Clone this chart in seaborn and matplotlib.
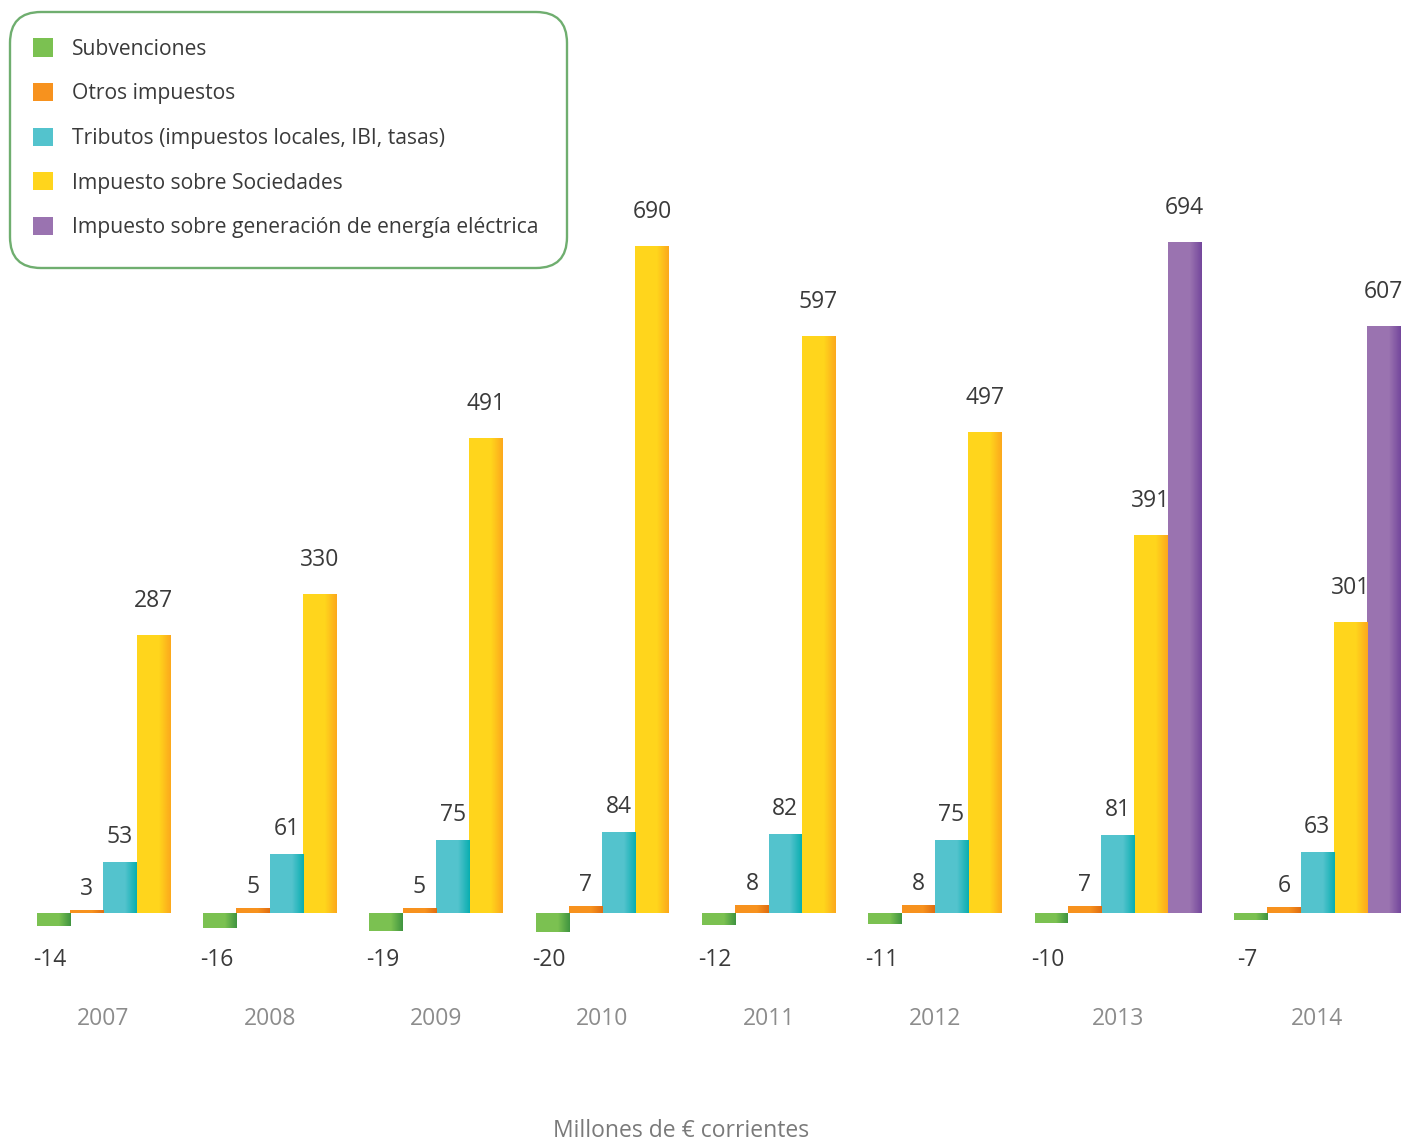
import numpy as np
import pandas as pd
import matplotlib
matplotlib.use("Agg")
import matplotlib.pyplot as plt
import seaborn as sns
from matplotlib.colors import to_rgb
from matplotlib.patches import FancyBboxPatch

# Contribución fiscal por concepto (millones de euros corrientes)
years = ["2007", "2008", "2009", "2010", "2011", "2012", "2013", "2014"]
series = [
    "Subvenciones",
    "Otros impuestos",
    "Tributos (impuestos locales, IBI, tasas)",
    "Impuesto sobre Sociedades",
    "Impuesto sobre generación de energía eléctrica",
]
subvenciones = [-14, -16, -19, -20, -12, -11, -10, -7]
otros_impuestos = [3, 5, 5, 7, 8, 8, 7, 6]
tributos = [53, 61, 75, 84, 82, 75, 81, 63]
sociedades = [287, 330, 491, 690, 597, 497, 391, 301]
energia = [None, None, None, None, None, None, 694, 607]

colors = ["#7bc151", "#f7921e", "#53c3cd", "#ffd51c", "#9a73b0"]
shade_colors = ["#3f9440", "#e06d12", "#09aeb0", "#fca81c", "#74479c"]
label_offset_px = [0, 21, 25, 34, 34]

values_by_series = [subvenciones, otros_impuestos, tributos, sociedades, energia]

# Build long-form table: bars of one year side by side, one empty slot between years
rows = []
group_centers = []
pos = 0
for yi, year in enumerate(years):
    start = pos
    for si, name in enumerate(series):
        v = values_by_series[si][yi]
        if v is None:
            continue
        rows.append({"pos": pos, "value": v, "serie": name, "year": year})
        pos += 1
    group_centers.append((start + pos - 1) / 2)
    pos += 1
df = pd.DataFrame(rows)

sns.set_style("white")
plt.rcParams["font.family"] = ["Open Sans", "DejaVu Sans"]

W, H = 1408, 1141
fig = plt.figure(figsize=(W / 100, H / 100), dpi=100)
ax = fig.add_axes([0, 0, 1, 1])

sns.barplot(
    data=df, x="pos", y="value", hue="serie", hue_order=series,
    palette=colors, native_scale=True, dodge=False, width=1,
    errorbar=None, linewidth=0, saturation=1, ax=ax,
)

# darker shading on the right side of each bar
for si, cont in enumerate(ax.containers):
    c0 = np.array(to_rgb(colors[si]))
    c1 = np.array(to_rgb(shade_colors[si]))
    n = 64
    t = np.linspace(0, 1, n)
    grad = (c0[None, :] * (1 - t[:, None]) + c1[None, :] * t[:, None])[None, :, :]
    for bar in cont:
        x0, w = bar.get_x(), bar.get_width()
        y0, h = bar.get_y(), bar.get_height()
        im = ax.imshow(grad, extent=(x0 + 0.66 * w, x0 + w, y0, y0 + h),
                       aspect="auto", interpolation="bilinear",
                       zorder=bar.get_zorder() + 0.1)
        im.set_clip_path(bar)

xmin, xmax = -1.61, 40.73
ymin, ymax = -235.8, 944
ax.set_xlim(xmin, xmax)
ax.set_ylim(ymin, ymax)
ax.axis("off")

px_per_unit = H / (ymax - ymin)
text_color = "#3a3a3a"

# value labels
for si, cont in enumerate(ax.containers):
    sub = df[df["serie"] == series[si]]
    for bar, v in zip(cont, sub["value"]):
        xc = bar.get_x() + bar.get_width() / 2
        if v < 0:
            ax.text(xc - 0.1, -48.5, f"{v}", ha="center", va="center",
                    fontsize=16.5, color=text_color)
        else:
            ax.text(xc, v + label_offset_px[si] / px_per_unit, f"{v}",
                    ha="center", va="center", fontsize=16.5, color=text_color)

# year labels
for xc, year in zip(group_centers, years):
    ax.text(xc, -109.5, year, ha="center", va="center",
            fontsize=16.5, color="#8c8c8c")

fig.text(681 / W, 1 - 1131 / H, "Millones de € corrientes", ha="center",
         va="center", fontsize=16.5, color="#7a7a7a")

# legend box with rounded corners
box = FancyBboxPatch(
    (10 / W, 1 - 268 / H), 557 / W, 256 / H,
    boxstyle="round,pad=0,rounding_size=0.022", transform=fig.transFigure,
    facecolor="white", edgecolor="#6fae6f", linewidth=1.7,
    mutation_aspect=W / H, zorder=5, clip_on=False,
)
ax.add_artist(box)

handles, labels = ax.get_legend_handles_labels()
leg = ax.legend(
    handles, labels, loc="upper left",
    bbox_to_anchor=(33 / W, 1 - 38.5 / H), bbox_transform=fig.transFigure,
    frameon=False, fontsize=15.2,
    handlelength=0.95, handleheight=0.95, handletextpad=0.9,
    labelspacing=1.1, borderpad=0, borderaxespad=0,
)
leg.set_zorder(6)
for t in leg.get_texts():
    t.set_color(text_color)

fig.savefig("out.png", dpi=100)
